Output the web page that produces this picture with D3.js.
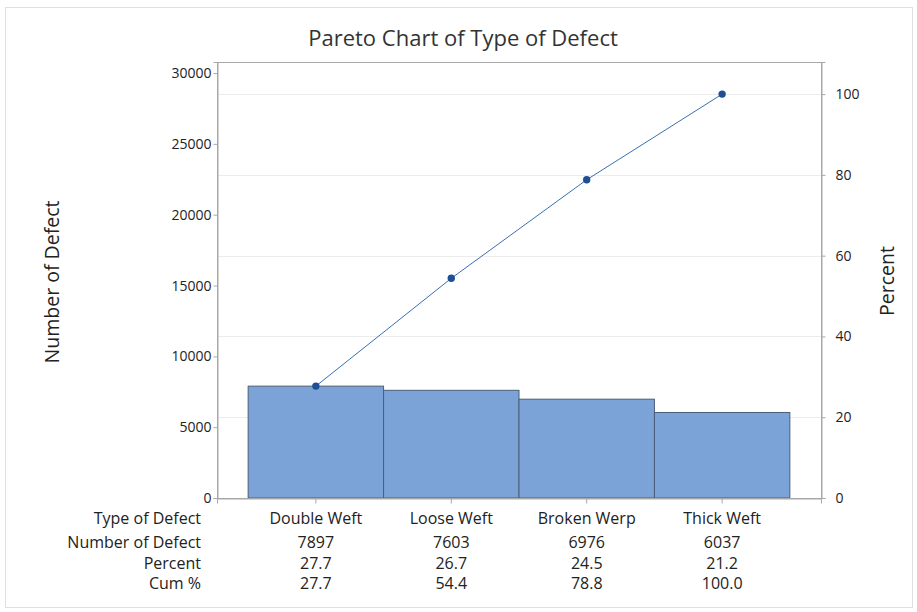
<!DOCTYPE html>
<html><head><meta charset="utf-8">
<script src="https://cdn.jsdelivr.net/npm/d3@7"></script>
<style>body{margin:0;background:#fff;font-family:"Open Sans","Noto Sans",sans-serif;}</style>
</head><body><svg id="c" width="917" height="612"></svg>
<script>
const categories = ["Double Weft","Loose Weft","Broken Werp","Thick Weft"];
const counts = [7897,7603,6976,6037];
const percents = ["27.7","26.7","24.5","21.2"];
const cumPercents = ["27.7","54.4","78.8","100.0"];
const cumValues = [27.7,54.4,78.8,100.0];
const leftTicks = [0,5000,10000,15000,20000,25000,30000];
const rightTicks = [0,20,40,60,80,100];
const rowLabels = ["Type of Defect","Number of Defect","Percent","Cum %"];

const svg = d3.select("#c");
const L=217,R=821,T=62,B=498;
const total = d3.sum(counts);
const yL = d3.scaleLinear().domain([0, 30780]).range([B,T]);
const yR = d3.scaleLinear().domain([0, 100*30780/total]).range([B,T]);
const x = d3.scaleBand().domain(categories).range([L,R]).paddingInner(0).paddingOuter(0.23);

// outer frame
svg.append("rect").attr("x",5.5).attr("y",7.5).attr("width",907).attr("height",600)
  .attr("fill","#fff").attr("stroke","#e0e0e0");

// gridlines
svg.append("g").selectAll("line").data(rightTicks.filter(d=>d>0)).join("line")
  .attr("x1",L).attr("x2",R).attr("y1",d=>Math.round(yR(d))+0.5).attr("y2",d=>Math.round(yR(d))+0.5)
  .attr("stroke","#ececec");

// bars
svg.append("g").selectAll("rect").data(categories).join("rect")
  .attr("x",d=>x(d)).attr("width",x.bandwidth())
  .attr("y",(d,i)=>yL(counts[i])).attr("height",(d,i)=>B-yL(counts[i]))
  .attr("fill","#7ca3d7").attr("stroke","#4d5e78").attr("stroke-width",1);

// frame
svg.append("rect").attr("x",L+0.5).attr("y",T+0.5).attr("width",R-L).attr("height",B-T)
  .attr("fill","none").attr("stroke","#a8a8a8");

// axes
const gl = svg.append("g").attr("transform",`translate(${L+0.5},0)`)
  .call(d3.axisLeft(yL).tickValues(leftTicks).tickSize(4).tickPadding(2).tickFormat(d3.format("d")));
const gr = svg.append("g").attr("transform",`translate(${R+0.5},0)`)
  .call(d3.axisRight(yR).tickValues(rightTicks).tickSize(4).tickPadding(10).tickFormat(d3.format("d")));
const gb = svg.append("g").attr("transform",`translate(0,${B+0.5})`)
  .call(d3.axisBottom(x).tickSize(5).tickFormat(""));
[gl,gr,gb].forEach(g=>{
  g.select(".domain").attr("stroke","#a8a8a8");
  g.selectAll(".tick line").attr("stroke","#a8a8a8");
  g.selectAll("text").attr("font-family","'Open Sans','Noto Sans',sans-serif").attr("font-size",14).attr("fill","#222");
});

// cumulative line
const cx = d=>x(d)+x.bandwidth()/2;
svg.append("path").datum(categories)
  .attr("d",d3.line().x(cx).y((d,i)=>yR(cumValues[i])))
  .attr("fill","none").attr("stroke","#3a6fb0").attr("stroke-width",1);
svg.append("g").selectAll("circle").data(categories).join("circle")
  .attr("cx",cx).attr("cy",(d,i)=>yR(cumValues[i])).attr("r",3.7).attr("fill","#1d4f94");

// titles
svg.append("text").attr("x",463).attr("y",46).attr("text-anchor","middle")
  .attr("font-size",22).attr("fill","#333").text("Pareto Chart of Type of Defect");
svg.append("text").attr("transform",`translate(59,282) rotate(-90)`).attr("text-anchor","middle")
  .attr("font-size",19.5).attr("fill","#222").text("Number of Defect");
svg.append("text").attr("transform",`translate(894,281) rotate(-90)`).attr("text-anchor","middle")
  .attr("font-size",19.5).attr("fill","#222").text("Percent");

// table
const rowsY=[523.5,547.5,568.5,588.5];
const rows=[categories, counts.map(String), percents, cumPercents];
const tg = svg.append("g").attr("font-size",16).attr("fill","#222");
rowLabels.forEach((lab,r)=>{
  tg.append("text").attr("x",201).attr("y",rowsY[r]).attr("text-anchor","end").text(lab);
  tg.selectAll(null).data(categories).join("text")
    .attr("x",cx).attr("y",rowsY[r]).attr("text-anchor","middle").text((d,i)=>rows[r][i]);
});
</script></body></html>
